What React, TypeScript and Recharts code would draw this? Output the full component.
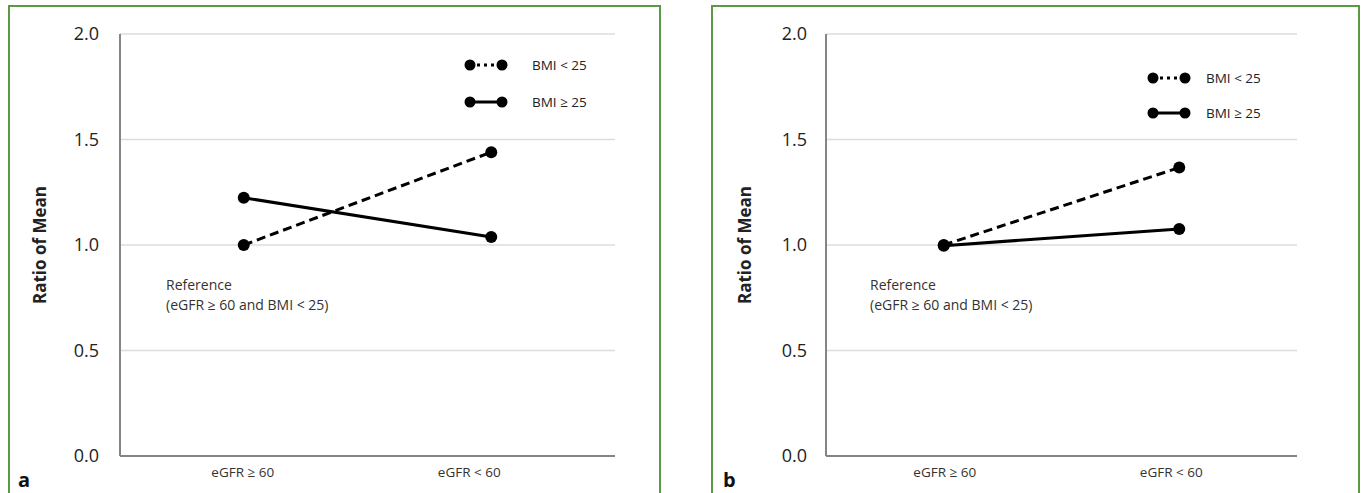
import React from 'react';
import { LineChart, Line, XAxis, YAxis, CartesianGrid, Legend } from 'recharts';

const categories = ['eGFR ≥ 60', 'eGFR < 60'];
const seriesNames = ['BMI < 25', 'BMI ≥ 25'];
const panelA_bmiLow = [1.0, 1.44];
const panelA_bmiHigh = [1.224, 1.038];
const panelB_bmiLow = [1.0, 1.367];
const panelB_bmiHigh = [0.997, 1.076];
const yTicks = [0, 0.5, 1.0, 1.5, 2.0];
const yLabel = 'Ratio of Mean';
const refLines = ['Reference', '(eGFR ≥ 60 and BMI < 25)'];

const FONT = '"Open Sans", "Noto Sans", sans-serif';
const GREEN = '#5a9a45';
const AXIS = '#858585';

function buildData(low: number[], high: number[]) {
  return categories.map((c, i) => ({ cat: c, low: low[i], high: high[i] }));
}

function LegendBox({ rowGap, textGap }: { rowGap: number; textGap: number }) {
  return (
    <div style={{ fontFamily: FONT, fontSize: 13.5, color: '#222' }}>
      {seriesNames.map((n, i) => (
        <div key={n} style={{ display: 'flex', alignItems: 'center', height: 14, marginTop: i === 0 ? 0 : rowGap }}>
          <svg width={44} height={14} style={{ display: 'block' }}>
            <line x1={6} y1={7} x2={38} y2={7} stroke="#000" strokeWidth={3}
              strokeDasharray={i === 0 ? '3 4' : undefined} />
            <circle cx={6} cy={7} r={5.5} fill="#000" />
            <circle cx={38} cy={7} r={5.5} fill="#000" />
          </svg>
          <span style={{ marginLeft: textGap, lineHeight: '14px' }}>{n}</span>
        </div>
      ))}
    </div>
  );
}

type PanelProps = {
  left: number;
  width: number;
  low: number[];
  high: number[];
  marginLeft: number;
  marginRight: number;
  yLabelDx: number;
  yTickMargin: number;
  tickShift: number[];
  legendLeft: number;
  legendTop: number;
  legendRowGap: number;
  legendTextGap: number;
  refLeft: number;
};

function Panel(p: PanelProps) {
  const data = buildData(p.low, p.high);
  const Tick = (props: any) => {
    const { x, y, payload, index } = props;
    return (
      <text x={x + p.tickShift[index]} y={y} dy="0.71em" textAnchor="middle"
        fontSize={13.5} fill="#333" fontFamily={FONT}>
        {payload.value}
      </text>
    );
  };
  return (
    <div style={{ position: 'absolute', left: p.left, top: 0, width: p.width, height: 493 }}>
      <LineChart width={p.width} height={493} data={data}
        margin={{ top: 34, right: p.marginRight, bottom: 7, left: p.marginLeft }}>
        <CartesianGrid vertical={false} stroke="#dcdcdc" strokeWidth={1.5} />
        <XAxis dataKey="cat" scale="band" height={30} axisLine={{ stroke: AXIS, strokeWidth: 2 }}
          tickLine={false} tickSize={0} tickMargin={11} tick={<Tick />} interval={0} />
        <XAxis xAxisId="top" dataKey="cat" scale="band" orientation="top" height={0}
          axisLine={{ stroke: AXIS, strokeWidth: 2 }} tick={false} tickLine={false} />
        <YAxis domain={[0, 2]} ticks={yTicks} width={60} tickSize={0} tickMargin={p.yTickMargin}
          tickLine={false} axisLine={{ stroke: AXIS, strokeWidth: 2 }}
          tickFormatter={(v: number) => v.toFixed(1)}
          tick={{ fontSize: 18, fill: '#222', fontFamily: FONT }}
          label={{ value: yLabel, angle: -90, position: 'center', dx: p.yLabelDx,
            style: { fontSize: 17, fontWeight: 700, fill: '#222', fontFamily: FONT, textAnchor: 'middle' } }} />
        <YAxis yAxisId="right" orientation="right" domain={[0, 2]} width={0} tick={false}
          tickLine={false} axisLine={{ stroke: AXIS, strokeWidth: 2 }} />
        <Legend verticalAlign="middle" layout="horizontal"
          content={() => <LegendBox rowGap={p.legendRowGap} textGap={p.legendTextGap} />}
          wrapperStyle={{ position: 'absolute', left: p.legendLeft, top: p.legendTop, width: 170, height: 60 }} />
        <Line dataKey="low" name={seriesNames[0]} stroke="#000" strokeWidth={3} strokeDasharray="9 5"
          dot={{ r: 6, fill: '#000', stroke: '#000', strokeWidth: 0 }} isAnimationActive={false} />
        <Line dataKey="high" name={seriesNames[1]} stroke="#000" strokeWidth={3}
          dot={{ r: 6, fill: '#000', stroke: '#000', strokeWidth: 0 }} isAnimationActive={false} />
      </LineChart>
      <div style={{ position: 'absolute', left: p.refLeft, top: 275, fontFamily: FONT, fontSize: 14,
        color: '#333', lineHeight: '20px', whiteSpace: 'nowrap' }}>
        <div>{refLines[0]}</div>
        <div>{refLines[1]}</div>
      </div>
    </div>
  );
}

const letterStyle: React.CSSProperties = {
  position: 'absolute', top: 470, fontFamily: FONT, fontSize: 20, fontWeight: 700,
  color: '#111', lineHeight: '20px', height: 20,
};

export default function App() {
  return (
    <div style={{ position: 'absolute', left: 0, top: 0, width: 1365, height: 493, overflow: 'hidden', background: '#fff' }}>
      <div style={{ position: 'absolute', left: 8, top: 5, width: 649, height: 520, border: `2px solid ${GREEN}` }} />
      <div style={{ position: 'absolute', left: 711, top: 5, width: 645, height: 520, border: `2px solid ${GREEN}` }} />
      <Panel left={0} width={660} low={panelA_bmiLow} high={panelA_bmiHigh}
        marginLeft={60} marginRight={45} yLabelDx={-50} yTickMargin={21}
        tickShift={[-1, -22]} legendLeft={464} legendTop={58} legendRowGap={23} legendTextGap={24}
        refLeft={166} />
      <Panel left={712} width={647} low={panelB_bmiLow} high={panelB_bmiHigh}
        marginLeft={54} marginRight={62} yLabelDx={-51} yTickMargin={19}
        tickShift={[1, -8]} legendLeft={435} legendTop={71} legendRowGap={21} legendTextGap={15}
        refLeft={158} />
      <div style={{ ...letterStyle, left: 18 }}>a</div>
      <div style={{ ...letterStyle, left: 723 }}>b</div>
    </div>
  );
}
